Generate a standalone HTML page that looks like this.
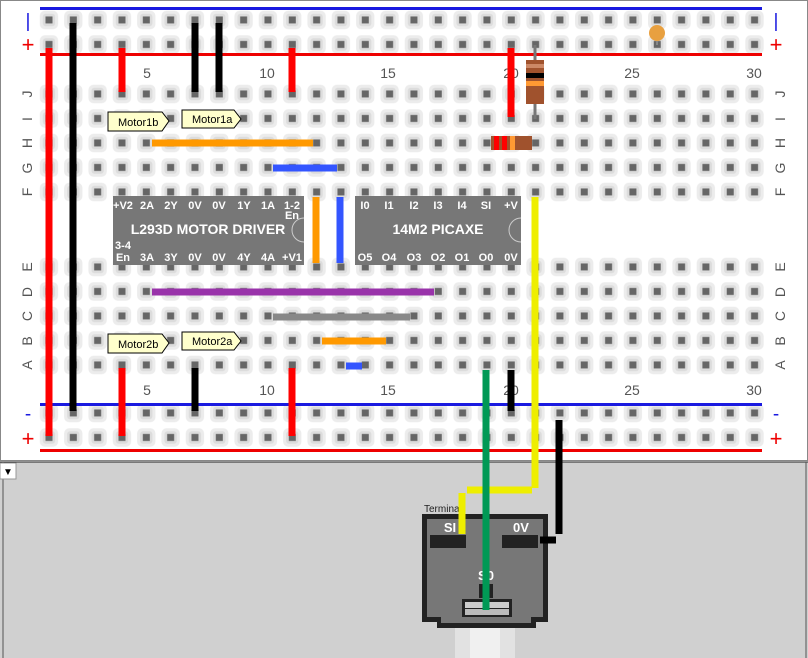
<!DOCTYPE html>
<html><head><meta charset="utf-8"><style>
html,body{margin:0;padding:0;background:#fff;}
svg{display:block;font-family:"Liberation Sans",sans-serif;}
</style></head><body>
<svg width="808" height="658" viewBox="0 0 808 658" xmlns="http://www.w3.org/2000/svg">
<defs>
<g id="hole">
<rect x="3" y="3" width="18.3" height="18.5" rx="5" fill="#ececec"/>
<rect x="6" y="6" width="12.3" height="12.5" rx="3" fill="#dcdcdc"/>
<rect x="8.7" y="8.7" width="7" height="7" fill="#666"/>
</g>
<pattern id="hT" patternUnits="userSpaceOnUse" x="36.8" y="7.75" width="24.33" height="24.5"><use href="#hole"/></pattern>
<pattern id="hJ" patternUnits="userSpaceOnUse" x="36.8" y="81.75" width="24.33" height="24.5"><use href="#hole"/></pattern>
<pattern id="hE" patternUnits="userSpaceOnUse" x="36.8" y="254.75" width="24.33" height="24.5"><use href="#hole"/></pattern>
<pattern id="hB" patternUnits="userSpaceOnUse" x="36.8" y="400.75" width="24.33" height="24.5"><use href="#hole"/></pattern>
</defs>
<rect x="0" y="0" width="808" height="658" fill="#fff"/>
<rect x="0.5" y="0.5" width="807" height="460" fill="#fff" stroke="#888"/>
<!-- holes -->
<rect x="36.8" y="7.75" width="730" height="49" fill="url(#hT)"/>
<rect x="36.8" y="81.75" width="730" height="122.5" fill="url(#hJ)"/>
<rect x="36.8" y="254.75" width="730" height="122.5" fill="url(#hE)"/>
<rect x="36.8" y="400.75" width="730" height="49" fill="url(#hB)"/>
<!-- rails -->
<rect x="40" y="7" width="722" height="3" fill="#1a1ae0"/>
<rect x="40" y="53" width="722" height="3" fill="#e00"/>
<rect x="40" y="403" width="722" height="3" fill="#1a1ae0"/>
<rect x="40" y="449" width="722" height="3" fill="#e00"/>
<g font-size="19" text-anchor="middle">
<text x="28" y="27" fill="#1a1ae0">|</text><text x="28" y="52" fill="#e00" font-size="22">+</text>
<text x="776" y="27" fill="#1a1ae0">|</text><text x="776" y="52" fill="#e00" font-size="22">+</text>
<text x="28" y="420" fill="#1a1ae0">-</text><text x="28" y="446" fill="#e00" font-size="22">+</text>
<text x="776" y="420" fill="#1a1ae0">-</text><text x="776" y="446" fill="#e00" font-size="22">+</text>
</g>
<g font-size="14" fill="#555" text-anchor="middle">
<text x="147" y="78">5</text><text x="267" y="78">10</text><text x="388" y="78">15</text><text x="511" y="78">20</text><text x="632" y="78">25</text><text x="754" y="78">30</text>
<text x="147" y="395">5</text><text x="267" y="395">10</text><text x="388" y="395">15</text><text x="511" y="395">20</text><text x="632" y="395">25</text><text x="754" y="395">30</text>
</g>
<g font-size="14" fill="#555" text-anchor="middle">
<g transform="translate(27,0)">
<text transform="translate(0,94) rotate(-90)" y="5">J</text><text transform="translate(0,119) rotate(-90)" y="5">I</text>
<text transform="translate(0,143) rotate(-90)" y="5">H</text><text transform="translate(0,168) rotate(-90)" y="5">G</text>
<text transform="translate(0,192) rotate(-90)" y="5">F</text><text transform="translate(0,267) rotate(-90)" y="5">E</text>
<text transform="translate(0,292) rotate(-90)" y="5">D</text><text transform="translate(0,316) rotate(-90)" y="5">C</text>
<text transform="translate(0,341) rotate(-90)" y="5">B</text><text transform="translate(0,365) rotate(-90)" y="5">A</text>
</g>
<g transform="translate(780,0)">
<text transform="translate(0,94) rotate(-90)" y="5">J</text><text transform="translate(0,119) rotate(-90)" y="5">I</text>
<text transform="translate(0,143) rotate(-90)" y="5">H</text><text transform="translate(0,168) rotate(-90)" y="5">G</text>
<text transform="translate(0,192) rotate(-90)" y="5">F</text><text transform="translate(0,267) rotate(-90)" y="5">E</text>
<text transform="translate(0,292) rotate(-90)" y="5">D</text><text transform="translate(0,316) rotate(-90)" y="5">C</text>
<text transform="translate(0,341) rotate(-90)" y="5">B</text><text transform="translate(0,365) rotate(-90)" y="5">A</text>
</g>
</g>
<!-- bottom panel -->
<rect x="0" y="462" width="808" height="196" fill="#d0d0d0"/>
<line x1="0" y1="462" x2="808" y2="462" stroke="#222" stroke-width="1"/>
<line x1="3" y1="462" x2="3" y2="658" stroke="#555"/>
<line x1="806" y1="462" x2="806" y2="658" stroke="#555"/>
<rect x="0" y="463" width="16" height="16" fill="#fff" stroke="#999"/>
<text x="3" y="475" font-size="10">▼</text>
<!-- terminal -->
<text x="424" y="512" font-size="10" fill="#222">Terminal</text>
<rect x="455" y="628" width="60" height="30" fill="#e2e2e2"/>
<rect x="470" y="628" width="30" height="30" fill="#f0f0f0"/>
<path d="M422,514 H548 V622 H536 V628 H437 V622 H422 Z" fill="#222"/>
<path d="M427,519 H543 V617 H531 V623 H441 V617 H427 Z" fill="#777"/>
<rect x="430" y="535" width="36" height="13" fill="#222"/>
<rect x="502" y="535" width="36" height="13" fill="#222"/>
<rect x="479" y="584" width="14" height="14" fill="#222"/>
<rect x="462" y="599" width="50" height="18" fill="#222"/>
<rect x="465" y="602" width="44" height="6" fill="#ccc"/>
<rect x="465" y="609" width="44" height="6" fill="#bbb"/>
<g font-size="13" font-weight="bold" fill="#fff" text-anchor="middle">
<text x="450" y="532">SI</text><text x="521" y="532">0V</text><text x="486" y="580">S0</text>
</g>
<!-- chips -->
<g>
<rect x="113" y="196" width="191" height="69" fill="#777"/>
<path d="M304,218 a12,12 0 0,0 0,24" fill="none" stroke="#ccc"/>
<rect x="355" y="196" width="166" height="69" fill="#777"/>
<path d="M521,218 a12,12 0 0,0 0,24" fill="none" stroke="#ccc"/>
<g font-size="11" font-weight="bold" fill="#fff" text-anchor="middle">
<text x="123" y="209">+V2</text><text x="147" y="209">2A</text><text x="171" y="209">2Y</text><text x="195" y="209">0V</text><text x="219" y="209">0V</text><text x="244" y="209">1Y</text><text x="268" y="209">1A</text><text x="292" y="209">1-2</text><text x="292" y="219">En</text>
<text x="123" y="249">3-4</text><text x="123" y="261">En</text><text x="147" y="261">3A</text><text x="171" y="261">3Y</text><text x="195" y="261">0V</text><text x="219" y="261">0V</text><text x="244" y="261">4Y</text><text x="268" y="261">4A</text><text x="292" y="261">+V1</text>
<text x="365" y="209">I0</text><text x="389" y="209">I1</text><text x="414" y="209">I2</text><text x="438" y="209">I3</text><text x="462" y="209">I4</text><text x="486" y="209">SI</text><text x="511" y="209">+V</text>
<text x="365" y="261">O5</text><text x="389" y="261">O4</text><text x="414" y="261">O3</text><text x="438" y="261">O2</text><text x="462" y="261">O1</text><text x="486" y="261">O0</text><text x="511" y="261">0V</text>
</g>
<g font-size="14" font-weight="bold" fill="#fff" text-anchor="middle">
<text x="208" y="234">L293D MOTOR DRIVER</text><text x="438" y="234">14M2 PICAXE</text>
</g>
</g>
<!-- wires -->
<g stroke-linecap="butt" fill="none" stroke-width="7">
<line x1="49" y1="48" x2="49" y2="436" stroke="#f00"/>
<line x1="73" y1="23" x2="73" y2="411" stroke="#000"/>
<line x1="122" y1="48" x2="122" y2="92" stroke="#f00"/>
<line x1="122" y1="368" x2="122" y2="436" stroke="#f00"/>
<line x1="195" y1="23" x2="195" y2="92" stroke="#000"/>
<line x1="219" y1="23" x2="219" y2="92" stroke="#000"/>
<line x1="195" y1="368" x2="195" y2="411" stroke="#000"/>
<line x1="292" y1="48" x2="292" y2="92" stroke="#f00"/>
<line x1="292" y1="368" x2="292" y2="436" stroke="#f00"/>
<line x1="511" y1="48" x2="511" y2="117" stroke="#f00"/>
<line x1="152" y1="143" x2="313" y2="143" stroke="#f90"/>
<line x1="273" y1="168" x2="337" y2="168" stroke="#3355ff"/>
<line x1="316" y1="197" x2="316" y2="263" stroke="#f90"/>
<line x1="340" y1="197" x2="340" y2="263" stroke="#3355ff"/>
<line x1="152" y1="292" x2="434" y2="292" stroke="#9933aa"/>
<line x1="273" y1="317" x2="410" y2="317" stroke="#888"/>
<line x1="322" y1="341" x2="386" y2="341" stroke="#f90"/>
<line x1="346" y1="366" x2="362" y2="366" stroke="#3355ff"/>
<line x1="511" y1="370" x2="511" y2="411" stroke="#000"/>
<line x1="535" y1="197" x2="535" y2="488" stroke="#ee0"/>
<line x1="467" y1="490" x2="532" y2="490" stroke="#ee0"/>
<line x1="462" y1="493" x2="462" y2="534" stroke="#ee0"/>
<line x1="559" y1="420" x2="559" y2="534" stroke="#000"/>
<line x1="540" y1="540" x2="556" y2="540" stroke="#000"/>
<line x1="486" y1="370" x2="486" y2="610" stroke="#009955"/>
</g>
<!-- resistors -->
<line x1="535" y1="45" x2="535" y2="119" stroke="#777" stroke-width="3"/>
<rect x="526" y="60" width="18" height="44" fill="#a0522d"/>
<rect x="526" y="64" width="18" height="4" fill="#c86"/>
<rect x="526" y="73" width="18" height="5" fill="#000"/>
<rect x="526" y="81" width="18" height="5" fill="#f93"/>
<rect x="491" y="136" width="41" height="14" fill="#a0522d"/>
<rect x="494" y="136" width="5" height="14" fill="#f00"/>
<rect x="502" y="136" width="5" height="14" fill="#f00"/>
<rect x="510" y="136" width="5" height="14" fill="#f93"/>
<!-- capacitor -->
<circle cx="657" cy="33" r="8" fill="#e8a040"/>
<line x1="657" y1="41" x2="657" y2="45" stroke="#888" stroke-width="2"/>
<!-- motor labels -->
<g font-size="11" fill="#000">
<path d="M108,112 H162 L169,121 L162,131 H108 Z" fill="#ffffcc" stroke="#000"/><text x="118" y="126">Motor1b</text>
<path d="M182,110 H234 L241,119 L234,128 H182 Z" fill="#ffffcc" stroke="#000"/><text x="192" y="123">Motor1a</text>
<path d="M108,334 H162 L169,343 L162,353 H108 Z" fill="#ffffcc" stroke="#000"/><text x="118" y="348">Motor2b</text>
<path d="M182,332 H234 L241,341 L234,350 H182 Z" fill="#ffffcc" stroke="#000"/><text x="192" y="345">Motor2a</text>
</g>
</svg>
</body></html>
